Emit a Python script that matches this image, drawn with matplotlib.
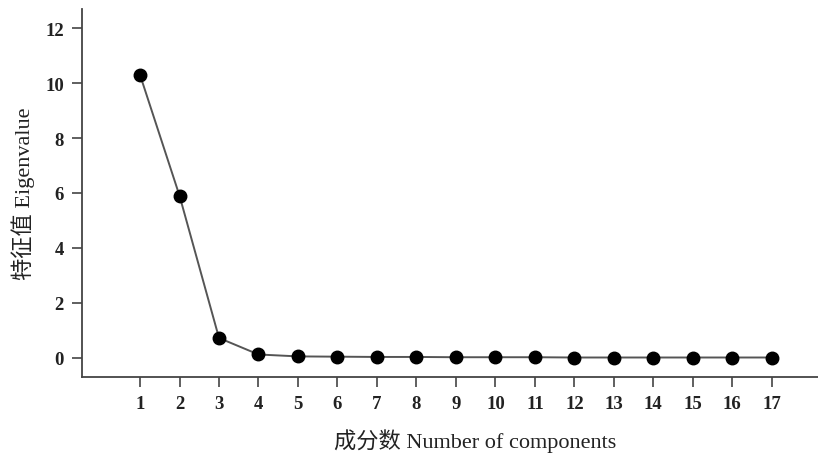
import matplotlib.pyplot as plt

plt.rcParams['font.family'] = ['Liberation Serif', 'Noto Sans CJK SC']

# 数据
components = list(range(1, 18))
eigenvalues = [10.3, 5.9, 0.72, 0.12, 0.05, 0.04, 0.03, 0.03, 0.02, 0.02,
               0.02, 0.01, 0.01, 0.01, 0.01, 0.01, 0.01]
x_ticks = components
y_ticks = [0, 2, 4, 6, 8, 10, 12]

fig = plt.figure(figsize=(8.18, 4.56), dpi=100)
ax = fig.add_axes([82 / 818, 78 / 456, 736 / 818, 368 / 456])

ax.plot(components, eigenvalues, color='#555555', linewidth=1.4,
        marker='o', markersize=9, markerfacecolor='black', markeredgecolor='black')

ax.set_xlim(-0.47, 18.17)
ax.set_ylim(-0.7, 12.7)
ax.set_xticks(x_ticks)
ax.set_yticks(y_ticks)

for side in ['top', 'right']:
    ax.spines[side].set_visible(False)
for side in ['left', 'bottom']:
    ax.spines[side].set_color('#444444')
    ax.spines[side].set_linewidth(1.3)

ax.tick_params(axis='both', direction='out', length=7, width=1.2, color='#444444',
               labelsize=13.5, labelcolor='#222222', pad=6)
for lbl in ax.get_xticklabels() + ax.get_yticklabels():
    lbl.set_fontweight('bold')

ax.set_xlabel('成分数 Number of components', fontsize=16, color='#222222')
ax.set_ylabel('特征值 Eigenvalue', fontsize=16, color='#222222')
ax.xaxis.set_label_coords((475 - 82) / 736, -0.14)
ax.yaxis.set_label_coords(-0.064, 0.5)

fig.savefig('out.png', dpi=100, facecolor='white')
